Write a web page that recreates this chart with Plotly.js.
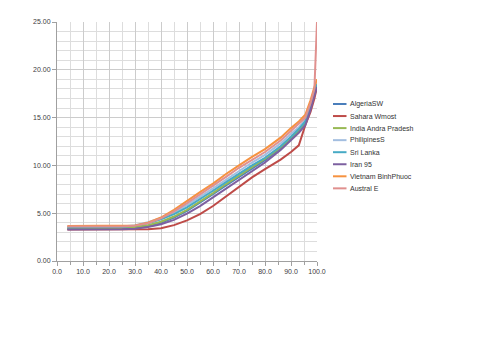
<!DOCTYPE html>
<html>
<head>
<meta charset="utf-8">
<script src="https://cdn.plot.ly/plotly-3.0.1.min.js"></script>
<style>html,body{margin:0;padding:0;background:#fff;}#chart{width:480px;height:360px;}</style>
</head>
<body>
<div id="chart"></div>
<script>
const xValues = [4, 10, 15, 20, 25, 30, 35, 40, 45, 50, 55, 60, 65, 70, 75, 80, 86, 90, 93, 95.5, 97.5, 99, 100];

const algeriaSW      = [3.35,3.35,3.35,3.36,3.38,3.45,3.65,4.0,4.55,5.25,6.1,7.0,7.9,8.8,9.7,10.55,11.8,12.8,13.6,14.4,16.0,17.5,18.3];
const saharaWmost    = [3.3,3.3,3.3,3.3,3.3,3.3,3.33,3.42,3.75,4.25,4.9,5.75,6.75,7.8,8.75,9.6,10.6,11.4,12.1,14.2,15.6,17.0,18.2];
const indiaAndra     = [3.45,3.45,3.45,3.45,3.48,3.55,3.75,4.1,4.65,5.35,6.2,7.1,8.05,8.95,9.85,10.7,11.9,12.9,13.7,14.5,16.1,17.6,18.4];
const philipinesS    = [3.55,3.55,3.55,3.56,3.6,3.75,4.05,4.5,5.1,5.85,6.7,7.6,8.5,9.4,10.3,11.1,12.3,13.3,14.0,14.8,16.3,17.8,18.6];
const sriLanka       = [3.5,3.5,3.5,3.52,3.56,3.7,3.95,4.35,4.9,5.6,6.45,7.35,8.25,9.15,10.0,10.8,12.0,13.0,13.8,14.6,16.2,17.7,18.5];
const iran95         = [3.3,3.3,3.3,3.3,3.32,3.38,3.55,3.85,4.3,4.95,5.75,6.65,7.55,8.5,9.4,10.3,11.6,12.6,13.4,14.2,15.8,17.3,18.2];
const vietnamBinh    = [3.65,3.65,3.65,3.65,3.66,3.72,4.0,4.55,5.35,6.3,7.2,8.1,9.1,10.0,10.9,11.7,12.9,13.9,14.6,15.3,16.8,18.2,19.0];
const australE       = [3.6,3.6,3.6,3.6,3.62,3.7,3.95,4.45,5.2,6.05,6.95,7.85,8.8,9.75,10.6,11.4,12.6,13.6,14.3,15.0,16.5,18.0,25.0];

const seriesNames = ["AlgeriaSW", "Sahara Wmost", "India Andra Pradesh", "PhilipinesS", "Sri Lanka", "Iran 95", "Vietnam BinhPhuoc", "Austral E"];
const seriesValues = [algeriaSW, saharaWmost, indiaAndra, philipinesS, sriLanka, iran95, vietnamBinh, australE];
const seriesColors = ["#4A7EBB", "#BE4B48", "#98B954", "#A3BEE0", "#46AAC5", "#7D60A0", "#F69240", "#E0908E"];

const xTicks = [0, 10, 20, 30, 40, 50, 60, 70, 80, 90, 100];
const xTickLabels = ["0.0", "10.0", "20.0", "30.0", "40.0", "50.0", "60.0", "70.0", "80.0", "90.0", "100.0"];
const yTicks = [0, 5, 10, 15, 20, 25];
const yTickLabels = ["0.00", "5.00", "10.00", "15.00", "20.00", "25.00"];

const traces = seriesNames.map((name, i) => ({
  x: xValues,
  y: seriesValues[i],
  name: name,
  type: "scatter",
  mode: "lines",
  line: { color: seriesColors[i], width: 2 }
}));

// Compact legend (Excel-style) built from series names and colours
const W = 480, H = 360, mL = 57, mR = 163, mT = 22, mB = 99;
const pw = W - mL - mR, ph = H - mT - mB;
const toPX = px => (px - mL) / pw;
const toPY = py => (H - mB - py) / ph;
const legTop = 104, legStep = 12.05;
const shapes = [], annotations = [];
seriesNames.forEach((name, i) => {
  const py = legTop + legStep * i;
  shapes.push({ type: "line", xref: "paper", yref: "paper",
    x0: toPX(333), x1: toPX(346.5), y0: toPY(py), y1: toPY(py),
    line: { color: seriesColors[i], width: 2 } });
  annotations.push({ xref: "paper", yref: "paper", x: toPX(348), y: toPY(py),
    xanchor: "left", yanchor: "middle", showarrow: false, text: name,
    font: { size: 7, color: "#333333" } });
});

const layout = {
  width: W,
  height: H,
  margin: { l: mL, r: mR, t: mT, b: mB },
  paper_bgcolor: "#ffffff",
  plot_bgcolor: "#ffffff",
  font: { family: "Liberation Sans, Arial, sans-serif", size: 7, color: "#404040" },
  showlegend: false,
  shapes: shapes,
  annotations: annotations,
  xaxis: {
    range: [0, 100],
    tickmode: "array",
    tickvals: xTicks,
    ticktext: xTickLabels,
    showgrid: true,
    gridcolor: "#CCCCCC",
    gridwidth: 1,
    minor: { dtick: 5, tick0: 0, showgrid: true, gridcolor: "#DDDDDD", gridwidth: 1, ticks: "outside", ticklen: 3, tickcolor: "#A0A0A0" },
    showline: true,
    linecolor: "#A0A0A0",
    linewidth: 1,
    ticks: "outside",
    ticklen: 4,
    tickcolor: "#A0A0A0",
    zeroline: false,
    tickfont: { size: 7, color: "#404040" }
  },
  yaxis: {
    range: [0, 25],
    tickmode: "array",
    tickvals: yTicks,
    ticktext: yTickLabels,
    showgrid: true,
    gridcolor: "#CCCCCC",
    gridwidth: 1,
    minor: { dtick: 1, tick0: 0, showgrid: true, gridcolor: "#DDDDDD", gridwidth: 1 },
    showline: true,
    linecolor: "#A0A0A0",
    linewidth: 1,
    ticks: "outside",
    ticklen: 4,
    tickcolor: "#A0A0A0",
    zeroline: false,
    tickfont: { size: 7, color: "#404040" }
  }
};

Plotly.newPlot("chart", traces, layout, { displayModeBar: false, staticPlot: true });
</script>
</body>
</html>
